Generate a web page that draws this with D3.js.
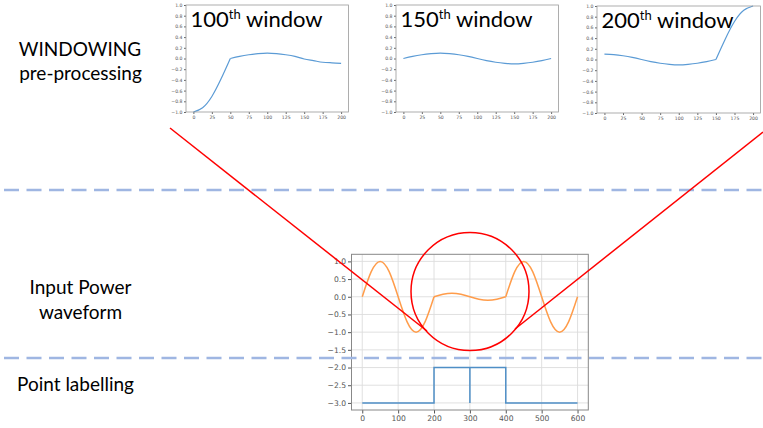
<!DOCTYPE html>
<html>
<head>
<meta charset="utf-8">
<script src="https://cdn.jsdelivr.net/npm/d3@7"></script>
<style>
  body { margin: 0; background: #fff; }
  svg { display: block; }
  .tick text { font-family: "DejaVu Sans", sans-serif; fill: #555; }
  .label { font-family: Lato, "Open Sans", sans-serif; fill: #000; }
</style>
</head>
<body>
<svg id="chart" width="763" height="428"></svg>
<script>
// window snapshots (x in samples, y normalised power)
const winX = [0, 12.5, 25, 37.5, 50, 62.5, 75, 87.5, 100, 112.5, 125, 137.5, 150, 162.5, 175, 187.5, 200];
const win100Y = [-1, -0.92, -0.71, -0.38, 0, 0.04, 0.07, 0.09, 0.1, 0.09, 0.07, 0.04, -0.01, -0.04, -0.07, -0.08, -0.09];
const win150Y = [0, 0.04, 0.07, 0.09, 0.1, 0.09, 0.07, 0.04, 0, -0.04, -0.07, -0.09, -0.1, -0.09, -0.07, -0.04, 0];
const win200Y = [0.1, 0.09, 0.07, 0.04, 0, -0.04, -0.07, -0.09, -0.1, -0.09, -0.07, -0.04, 0, 0.38, 0.71, 0.92, 1];
const winNames = ["100", "150", "200"];
const winBreaks = [[50], [], [150]];
const winXTicks = [0, 25, 50, 75, 100, 125, 150, 175, 200];
const winYTicks = [1, 0.8, 0.6, 0.4, 0.2, 0, -0.2, -0.4, -0.6, -0.8, -1];

// input waveform + point labels
const waveX = [0, 25, 50, 75, 100, 125, 150, 175, 200, 225, 250, 275, 300, 325, 350, 375, 400, 425, 450, 475, 500, 525, 550, 575, 600];
const waveY = [0, 0.71, 1, 0.71, 0, -0.71, -1, -0.71, 0, 0.07, 0.1, 0.07, 0, -0.07, -0.1, -0.07, 0, 0.71, 1, 0.71, 0, -0.71, -1, -0.71, 0];
const waveBreaks = [200, 400];
const labelX = [0, 200, 200, 300, 300, 300, 400, 400, 600];
const labelY = [-3, -3, -2, -2, -3, -2, -2, -3, -3];
const mainXTicks = [0, 100, 200, 300, 400, 500, 600];
const mainYTicks = [1, 0.5, 0, -0.5, -1, -1.5, -2, -2.5, -3];

const svg = d3.select("#chart");
svg.append("rect").attr("width", 763).attr("height", 428).attr("fill", "#fff");

// split a series at kink points so the smoothing keeps the corners
function segments(xs, ys, breaks) {
  const edges = [xs[0], ...breaks, xs[xs.length - 1]];
  const out = [];
  for (let i = 0; i < edges.length - 1; i++) {
    out.push(xs.map((x, j) => [x, ys[j]]).filter(p => p[0] >= edges[i] && p[0] <= edges[i + 1]));
  }
  return out;
}

// ---- small window charts
const frames = [
  {x0: 186, x1: 348.5, y0: 5, y1: 112},
  {x0: 396, x1: 558.5, y0: 5, y1: 112},
  {x0: 597, x1: 760.5, y0: 6, y1: 113}
];
const winSeries = [win100Y, win150Y, win200Y];

frames.forEach((f, k) => {
  const x = d3.scaleLinear().domain([-10, 210]).range([f.x0, f.x1]);
  const y = d3.scaleLinear().domain([-1, 1]).range([f.y1, f.y0]);
  const g = svg.append("g");

  g.append("g")
    .attr("transform", `translate(0,${f.y1})`)
    .call(d3.axisBottom(x).tickValues(winXTicks).tickSize(2).tickPadding(1.5).tickFormat(d3.format("d")))
    .call(a => a.select(".domain").remove())
    .call(a => a.selectAll("line").attr("stroke", "#666"))
    .call(a => a.selectAll("text").style("font-size", "4.6px"));

  g.append("g")
    .attr("transform", `translate(${f.x0},0)`)
    .call(d3.axisLeft(y).tickValues(winYTicks).tickSize(2).tickPadding(1.5).tickFormat(d3.format(".1f")))
    .call(a => a.select(".domain").remove())
    .call(a => a.selectAll("line").attr("stroke", "#666"))
    .call(a => a.selectAll("text").style("font-size", "4.6px"));

  const line = d3.line().x(d => x(d[0])).y(d => y(d[1])).curve(d3.curveNatural);
  segments(winX, winSeries[k], winBreaks[k]).forEach(seg => {
    g.append("path").attr("d", line(seg))
      .attr("fill", "none").attr("stroke", "#5b9bd5").attr("stroke-width", 1.2);
  });

  g.append("rect")
    .attr("x", f.x0).attr("y", f.y0)
    .attr("width", f.x1 - f.x0).attr("height", f.y1 - f.y0)
    .attr("fill", "none").attr("stroke", "#999").attr("stroke-width", 0.8);

  const t = g.append("text").attr("class", "label")
    .attr("x", f.x0 + 4.5).attr("y", f.y0 + 21.5)
    .style("font-size", "22px");
  t.append("tspan").text(winNames[k]);
  t.append("tspan").attr("dy", -8).style("font-size", "13px").text("th");
  t.append("tspan").attr("dy", 8).text(" window");
});

// ---- main waveform chart
const mx = d3.scaleLinear().domain([-30, 630]).range([351.5, 588.3]);
const my = d3.scaleLinear().domain([-3.2, 1.2]).range([410, 254.3]);
const main = svg.append("g");

main.append("g").selectAll("line.gx").data(mainXTicks).join("line")
  .attr("x1", d => mx(d)).attr("x2", d => mx(d))
  .attr("y1", 254.3).attr("y2", 410)
  .attr("stroke", "#dcdcdc").attr("stroke-width", 0.9);
main.append("g").selectAll("line.gy").data(mainYTicks).join("line")
  .attr("x1", 351.5).attr("x2", 588.3)
  .attr("y1", d => my(d)).attr("y2", d => my(d))
  .attr("stroke", "#dcdcdc").attr("stroke-width", 0.9);

main.append("g")
  .attr("transform", "translate(0,410)")
  .call(d3.axisBottom(mx).tickValues(mainXTicks).tickSize(3.5).tickPadding(2).tickFormat(d3.format("d")))
  .call(a => a.select(".domain").remove())
  .call(a => a.selectAll("line").attr("stroke", "#555"))
  .call(a => a.selectAll("text").style("font-size", "7.6px"));

main.append("g")
  .attr("transform", "translate(351.5,0)")
  .call(d3.axisLeft(my).tickValues(mainYTicks).tickSize(3.5).tickPadding(2).tickFormat(d3.format(".1f")))
  .call(a => a.select(".domain").remove())
  .call(a => a.selectAll("line").attr("stroke", "#555"))
  .call(a => a.selectAll("text").style("font-size", "7.6px"));

const waveLine = d3.line().x(d => mx(d[0])).y(d => my(d[1])).curve(d3.curveNatural);
segments(waveX, waveY, waveBreaks).forEach(seg => {
  main.append("path").attr("d", waveLine(seg))
    .attr("fill", "none").attr("stroke", "#ff9c4a").attr("stroke-width", 1.5);
});

main.append("path")
  .attr("d", d3.line().x((d, i) => mx(d)).y((d, i) => my(labelY[i]))(labelX))
  .attr("fill", "none").attr("stroke", "#4f8fc6").attr("stroke-width", 1.5);

main.append("rect")
  .attr("x", 351.5).attr("y", 254.3).attr("width", 588.3 - 351.5).attr("height", 410 - 254.3)
  .attr("fill", "none").attr("stroke", "#888").attr("stroke-width", 1);

// ---- separators
[190, 358].forEach(yy => {
  svg.append("line")
    .attr("x1", 4).attr("x2", 763).attr("y1", yy).attr("y2", yy)
    .attr("stroke", "#9fb6e2").attr("stroke-width", 2.5)
    .attr("stroke-dasharray", "15,7.5");
});

// ---- red zoom annotation
svg.append("line").attr("x1", 170).attr("y1", 128).attr("x2", 427).attr("y2", 331)
  .attr("stroke", "#ff0000").attr("stroke-width", 1.5);
svg.append("line").attr("x1", 763).attr("y1", 132).attr("x2", 515).attr("y2", 329)
  .attr("stroke", "#ff0000").attr("stroke-width", 1.5);
svg.append("circle").attr("cx", 470).attr("cy", 291.5).attr("r", 59)
  .attr("fill", "none").attr("stroke", "#ff0000").attr("stroke-width", 1.5);

// ---- row labels
const rowLabels = [
  {text: "WINDOWING", x: 80, y: 55.5},
  {text: "pre-processing", x: 80.5, y: 80},
  {text: "Input Power", x: 80.5, y: 294},
  {text: "waveform", x: 80.5, y: 319},
  {text: "Point labelling", x: 75.5, y: 391}
];
svg.append("g").selectAll("text").data(rowLabels).join("text")
  .attr("class", "label")
  .attr("x", d => d.x).attr("y", d => d.y)
  .attr("text-anchor", "middle")
  .style("font-size", "19px")
  .text(d => d.text);
</script>
</body>
</html>
